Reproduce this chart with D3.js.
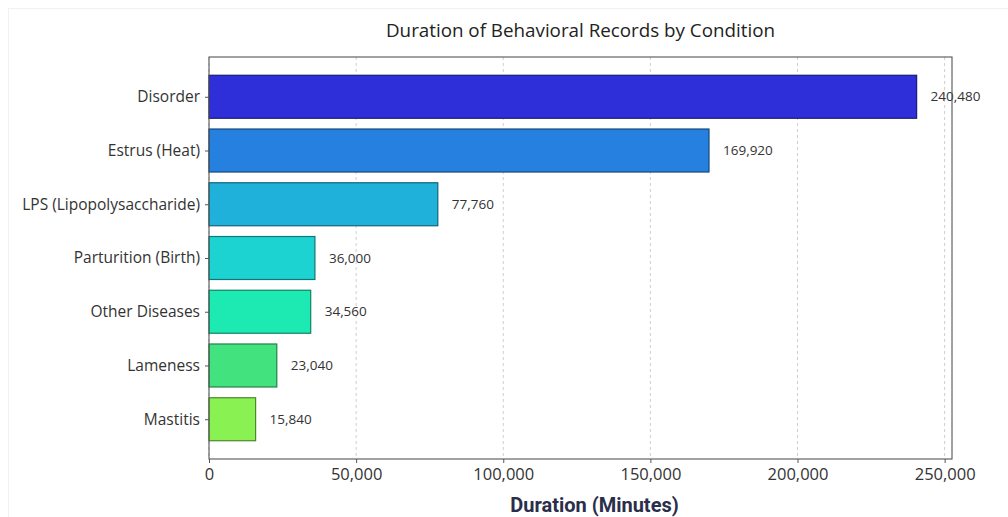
<!DOCTYPE html>
<html>
<head>
<meta charset="utf-8">
<script src="https://cdn.jsdelivr.net/npm/d3@7"></script>
<style>
  body { margin: 0; background: #fff; }
  svg { display: block; font-family: "Open Sans", "Noto Sans", sans-serif; }
</style>
</head>
<body>
<svg id="chart" width="1008" height="517"></svg>
<script>
const conditions = ['Disorder', 'Estrus (Heat)', 'LPS (Lipopolysaccharide)', 'Parturition (Birth)', 'Other Diseases', 'Lameness', 'Mastitis']
const durations = [240480, 169920, 77760, 36000, 34560, 23040, 15840]
const barColors = ['#2e2fd9', '#2580e0', '#1fb1da', '#1dd3d2', '#1de9b3', '#42e27e', '#89f151']
const xTicks = [0, 50000, 100000, 150000, 200000, 250000]

const svg = d3.select('#chart')
const margin = { top: 57, right: 56, bottom: 58, left: 209 }
const width = 1008 - margin.left - margin.right
const height = 517 - margin.top - margin.bottom

// faint outer frame
svg.append('rect')
  .attr('x', 8.5).attr('y', 8.5)
  .attr('width', 1000).attr('height', 510)
  .attr('fill', 'none').attr('stroke', '#f1f1f1')

const data = conditions.map((c, i) => ({ name: c, value: durations[i], color: barColors[i] }))

const xScale = d3.scaleLinear().domain([0, d3.max(durations) * 1.05]).range([0, width])
// matplotlib-like: bar height 0.8, 5% margins
const yScale = d3.scaleLinear().domain([-0.74, conditions.length - 1 + 0.74]).range([0, height])
const barH = yScale(0.8) - yScale(0)

const g = svg.append('g').attr('transform', `translate(${margin.left}, ${margin.top})`)

// grid
g.selectAll('.grid')
  .data(xTicks)
  .enter()
  .append('line')
  .attr('class', 'grid')
  .attr('x1', d => xScale(d)).attr('x2', d => xScale(d))
  .attr('y1', 0).attr('y2', height)
  .attr('stroke', '#c8c8c8')
  .attr('stroke-width', 0.9)
  .attr('stroke-dasharray', '3,3')

// bars
g.selectAll('.bar')
  .data(data)
  .enter()
  .append('rect')
  .attr('class', 'bar')
  .attr('x', xScale(0))
  .attr('y', (d, i) => yScale(i) - barH / 2)
  .attr('width', d => xScale(d.value) - xScale(0))
  .attr('height', barH)
  .attr('fill', d => d.color)
  .attr('stroke', d => d3.color(d.color).darker(1.6))
  .attr('stroke-width', 1.2)

// value labels
g.selectAll('.val')
  .data(data)
  .enter()
  .append('text')
  .attr('class', 'val')
  .attr('x', d => xScale(d.value) + 14)
  .attr('y', (d, i) => yScale(i))
  .attr('dy', '0.35em')
  .attr('font-size', 13.5)
  .attr('fill', '#333')
  .text(d => d3.format(',')(d.value))

// frame
g.append('rect')
  .attr('x', 0).attr('y', 0)
  .attr('width', width).attr('height', height)
  .attr('fill', 'none')
  .attr('stroke', '#555')
  .attr('stroke-width', 1.1)

// x axis
const xAxis = g.append('g')
  .attr('transform', `translate(0, ${height})`)
  .call(d3.axisBottom(xScale).tickValues(xTicks).tickFormat(d3.format(',')).tickSize(4).tickPadding(5))
xAxis.select('.domain').remove()
xAxis.selectAll('line').attr('stroke', '#555')
xAxis.selectAll('text').attr('font-size', 16.5).attr('fill', '#333').attr('font-family', '"Open Sans", sans-serif')

// y axis
const yAxis = g.append('g')
  .call(d3.axisLeft(yScale).tickValues(d3.range(conditions.length)).tickFormat(i => conditions[i]).tickSize(4).tickPadding(5))
yAxis.select('.domain').remove()
yAxis.selectAll('line').attr('stroke', '#555')
yAxis.selectAll('text').attr('font-size', 15.5).attr('fill', '#333').attr('font-family', '"Open Sans", sans-serif')

// title
svg.append('text')
  .attr('x', margin.left + width / 2)
  .attr('y', 37)
  .attr('text-anchor', 'middle')
  .attr('font-size', 18.8)
  .attr('fill', '#222')
  .text('Duration of Behavioral Records by Condition')

// x label
svg.append('text')
  .attr('x', margin.left + width / 2 + 14)
  .attr('y', 512)
  .attr('text-anchor', 'middle')
  .attr('font-size', 20)
  .attr('font-weight', 'bold')
  .attr('font-family', 'Roboto, "Liberation Sans", sans-serif')
  .attr('fill', '#2b2e4a')
  .text('Duration (Minutes)')
</script>
</body>
</html>
